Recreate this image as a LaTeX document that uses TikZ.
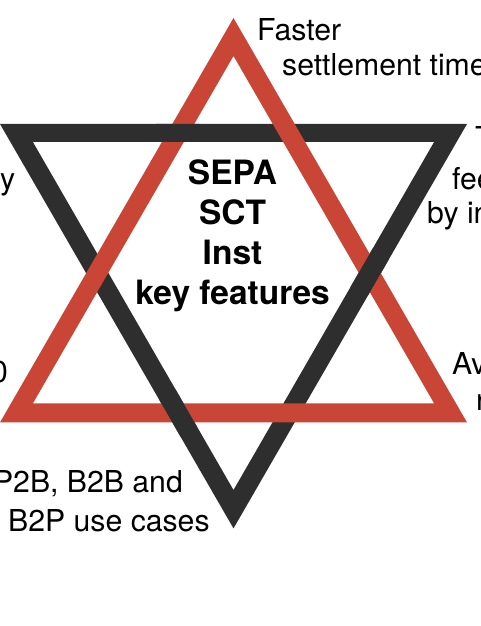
\documentclass[tikz,border=0pt]{standalone}
\usepackage{fontspec}
\setmainfont{TeX Gyre Heros}
\definecolor{starred}{HTML}{C94535}
\definecolor{stardark}{HTML}{2E2E2E}

\tikzset{
  darkstar/.style={fill=stardark, even odd rule,
    insert path={(0,502) -- (467,502) -- (233.5,97.6) -- cycle
                 (32.9,484) -- (434.1,484) -- (233.5,136) -- cycle}},
  redstar/.style={fill=starred, even odd rule,
    insert path={(233.5,608) -- (0,203.6) -- (467,203.6) -- cycle
                 (233.5,570) -- (32.9,222.6) -- (434.1,222.6) -- cycle}},
  note/.style={inner sep=0pt, font=\fontsize{30.2}{35}\selectfont},
  keytitle/.style={inner sep=0pt, align=center,
    font=\fontsize{33.5}{40}\selectfont\bfseries}
}

\begin{document}
\begin{tikzpicture}[x=1pt,y=1pt]
    \useasboundingbox (0,0) rectangle (480,626);
    \clip (0,0) rectangle (480,626);
    \fill[darkstar];
    \fill[redstar];
    \foreach \cx/\cy in {178/493,369/354,178/213}{
      \begin{scope}
        \clip (\cx,\cy) circle (24);
        \fill[darkstar];
      \end{scope}
    }
    \node[keytitle, anchor=base] (core) at (232.5,321) {SEPA\\SCT\\Inst\\key features};
    \node[note, anchor=base west] (faster) at (257,585.5) {Faster};
    \node[note, anchor=base west] (settle) at (282,550) {settlement time};
    \node[note, anchor=base west] (feesA) at (475,477) {Transparency of};
    \node[note, anchor=base west] (feesB) at (452,436) {fees charged};
    \node[note, anchor=base west] (feesC) at (427,402) {by intermediaries};
    \node[note, anchor=base east] (avail) at (15.5,436) {availability};
    \node[note, anchor=base east] (limit) at (8,243) {100,000};
    \node[note, anchor=base west] (reachA) at (452,251) {Available};
    \node[note, anchor=base west] (reachB) at (476,215) {round the clock};
    \node[note, anchor=base east] (casesA) at (183,133) {P2P, P2B, B2B and};
    \node[note, anchor=base west] (casesB) at (8,94) {B2P use cases};
\end{tikzpicture}
\end{document}
